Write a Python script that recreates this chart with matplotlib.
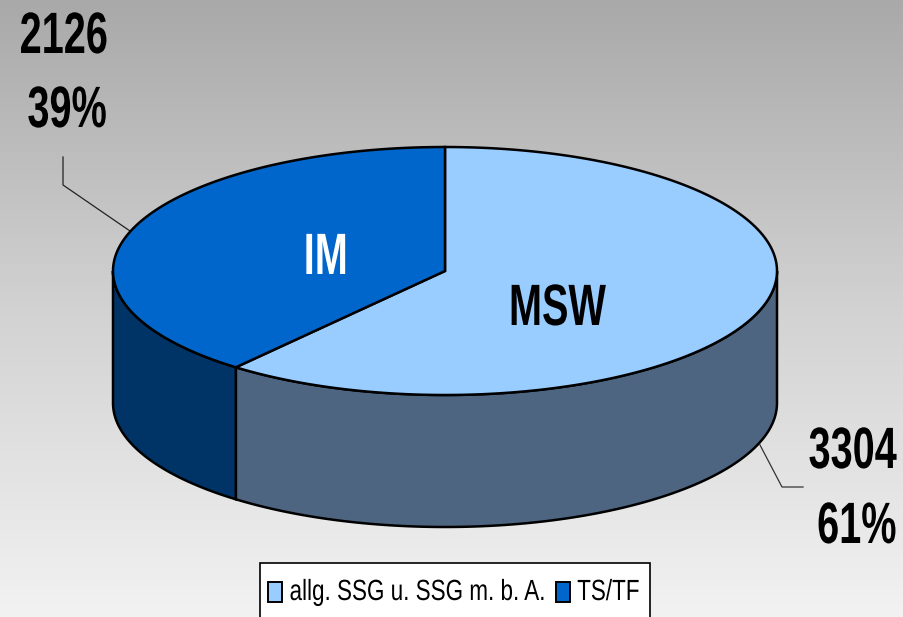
import numpy as np
import matplotlib
matplotlib.use('Agg')
import matplotlib.pyplot as plt
from matplotlib.patches import Rectangle
from matplotlib.patheffects import AbstractPathEffect
from matplotlib.transforms import Affine2D

plt.rcParams['font.family'] = ['Liberation Sans', 'DejaVu Sans']

# values
values = [3304, 2126]
percents = ['61%', '39%']
inner_labels = ['MSW', 'IM']
legend_labels = ['allg. SSG u. SSG m. b. A.', 'TS/TF']
top_colors = ['#99ccff', '#0066cc']
side_colors = ['#4d6580', '#003366']

# pie geometry in pixels
cx, cy = 445, 271
rx, ry = 332, 124
depth = 132


class Narrow(AbstractPathEffect):
    # squeeze glyphs sideways, no narrow font is installed
    # the side named in anchor stays where the text was aligned
    def __init__(self, sx, anchor='left'):
        super().__init__()
        self.sx = sx
        self.anchor = anchor

    def draw_path(self, renderer, gc, tpath, affine, rgbFace=None):
        ext = tpath.get_extents()
        x0 = ext.x1 if self.anchor == 'right' else ext.x0
        squeeze = Affine2D().translate(-x0, 0).scale(self.sx, 1).translate(x0, 0)
        renderer.draw_path(gc, tpath, squeeze + affine, rgbFace)


def ell(a):
    # a = clockwise angle from 12 o'clock, degrees
    r = np.radians(a)
    return cx + rx * np.sin(r), cy - ry * np.cos(r)


fig = plt.figure(figsize=(9.04, 6.17), dpi=100)
ax = fig.add_axes([0, 0, 1, 1])
ax.set_xlim(0, 904)
ax.set_ylim(617, 0)
ax.axis('off')

# background gradient
grad = np.linspace(0, 1, 256).reshape(-1, 1)
ax.imshow(grad, extent=[0, 904, 617, 0], cmap=matplotlib.colors.LinearSegmentedColormap.from_list(
    'bg', ['#a9a9a9', '#d2d2d2', '#f2f2f2']), aspect='auto', zorder=0, origin='upper')

split = 360 * values[0] / sum(values)

# side walls
for start, end, col in [(90, split, side_colors[0]), (split, 270, side_colors[1])]:
    a = np.linspace(start, end, 120)
    x, y = ell(a)
    xs = np.r_[x, x[::-1]]
    ys = np.r_[y, y[::-1] + depth]
    ax.fill(xs, ys, facecolor=col, edgecolor='black', lw=1.8, zorder=2)

# top wedges
for start, end, col in [(0, split, top_colors[0]), (split, 360, top_colors[1])]:
    a = np.linspace(start, end, 240)
    x, y = ell(a)
    ax.fill(np.r_[cx, x], np.r_[cy, y], facecolor=col, edgecolor='black', lw=1.8, zorder=3)

# labels
big = dict(fontsize=42, fontweight='bold', va='baseline', zorder=5)
left = [Narrow(0.68)]
right = [Narrow(0.68, 'right')]
ax.text(606, 325, inner_labels[0], color='black', ha='right', path_effects=right, **big)
ax.text(349, 274, inner_labels[1], color='white', ha='right', path_effects=right, **big)
ax.text(19, 53, str(values[1]), color='black', ha='left', path_effects=left, **big)
ax.text(27, 127, percents[1], color='black', ha='left', path_effects=left, **big)
ax.text(897, 468, str(values[0]), color='black', ha='right', path_effects=right, **big)
ax.text(897, 543, percents[0], color='black', ha='right', path_effects=right, **big)

# leader lines
ax.plot([63, 63, 130], [157, 185, 231], color='#222222', lw=0.9, zorder=1)
ax.plot([760, 782, 803], [445, 487, 487], color='#333333', lw=0.9, zorder=1)

# legend box runs off the bottom edge
ax.add_patch(Rectangle((260, 563), 390, 70, facecolor='white', edgecolor='black', lw=1.2, zorder=6))
small = dict(fontsize=21, va='baseline', color='black', zorder=7)
for sx, col in zip([268, 556], top_colors):
    ax.add_patch(Rectangle((sx, 582), 14, 20, facecolor=col, edgecolor='black', lw=1.4, zorder=7))
ax.text(545, 600, legend_labels[0], ha='right', path_effects=[Narrow(0.77, 'right')], **small)
ax.text(577, 600, legend_labels[1], ha='left', path_effects=[Narrow(0.77)], **small)

fig.savefig('out.png', dpi=100)
